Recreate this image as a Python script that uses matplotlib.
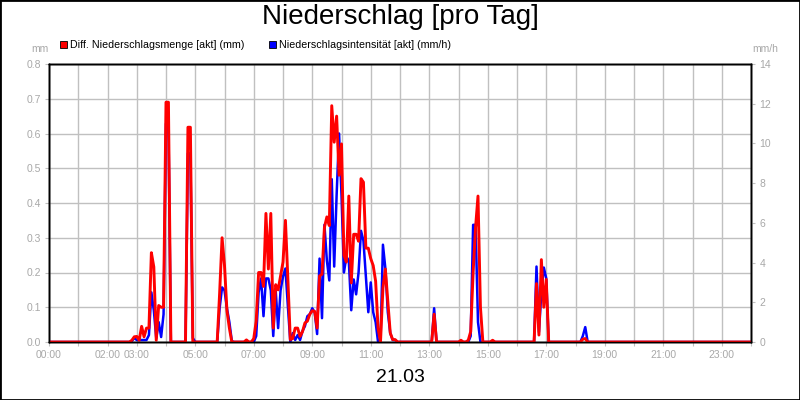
import matplotlib
matplotlib.use("Agg")
import matplotlib.pyplot as plt
from matplotlib import font_manager
from matplotlib.patches import Rectangle

# Diff. Niederschlagsmenge [akt] (mm), 5-minute steps where it rained
menge_times = [
    "00:00", "02:45", "02:50", "02:55", "03:00", "03:05", "03:10", "03:15", "03:20", "03:25",
    "03:30", "03:35", "03:40", "03:45", "03:50", "03:55", "04:00", "04:05", "04:10", "04:40",
    "04:45", "04:50", "04:55", "05:45", "05:50", "05:55", "06:00", "06:05", "06:10", "06:15",
    "06:40", "06:45", "06:50", "06:55", "07:00", "07:05", "07:10", "07:15", "07:20", "07:25",
    "07:30", "07:35", "07:40", "07:45", "07:50", "07:55", "08:00", "08:05", "08:10", "08:15",
    "08:20", "08:25", "08:30", "08:35", "08:40", "08:45", "08:50", "08:55", "09:00", "09:05",
    "09:10", "09:15", "09:20", "09:25", "09:30", "09:35", "09:40", "09:45", "09:50", "09:55",
    "10:00", "10:05", "10:10", "10:15", "10:20", "10:25", "10:30", "10:35", "10:40", "10:45",
    "10:50", "10:55", "11:00", "11:05", "11:10", "11:15", "11:20", "11:25", "11:30", "11:35",
    "11:40", "11:45", "11:50", "11:55", "13:05", "13:10", "13:15", "14:00", "14:05", "14:10",
    "14:15", "14:20", "14:25", "14:30", "14:35", "14:40", "14:45", "14:50", "15:05", "15:10",
    "15:15", "16:35", "16:40", "16:45", "16:50", "16:55", "17:00", "17:05", "18:10", "18:15",
    "18:20", "18:25", "24:00",
]
menge_values = [
    0, 0, 0.005, 0.015, 0.016, 0.005, 0.045, 0.015, 0.04, 0.04,
    0.257, 0.216, 0.005, 0.105, 0.1, 0.1, 0.69, 0.69, 0, 0,
    0.618, 0.618, 0, 0, 0.14, 0.30, 0.22, 0.09, 0.04, 0,
    0, 0.006, 0, 0, 0.01, 0.06, 0.2, 0.2, 0.16, 0.37,
    0.21, 0.37, 0.04, 0.165, 0.15, 0.19, 0.23, 0.35, 0.18, 0.007,
    0.01, 0.04, 0.04, 0.016, 0.03, 0.055, 0.06, 0.08, 0.09, 0.088,
    0.04, 0.19, 0.195, 0.33, 0.36, 0.335, 0.68, 0.575, 0.65, 0.48,
    0.57, 0.25, 0.23, 0.42, 0.17, 0.31, 0.31, 0.29, 0.47, 0.46,
    0.27, 0.27, 0.24, 0.22, 0.175, 0.04, 0, 0.155, 0.21, 0.117,
    0.026, 0.007, 0.007, 0, 0, 0.08, 0, 0, 0.005, 0,
    0, 0.005, 0.03, 0.2, 0.33, 0.42, 0.1, 0, 0, 0.005,
    0, 0, 0.168, 0.02, 0.237, 0.1, 0.18, 0, 0, 0.008,
    0.01, 0, 0,
]

# Niederschlagsintensitaet [akt] (mm/h)
intens_times = [
    "00:00", "02:45", "02:50", "02:55", "03:00", "03:05", "03:10", "03:15", "03:20", "03:25",
    "03:30", "03:35", "03:40", "03:45", "03:50", "03:55", "04:00", "04:05", "04:10", "04:40",
    "04:45", "04:50", "04:55", "05:00", "05:45", "05:50", "05:55", "06:00", "06:05", "06:10",
    "06:15", "06:20", "07:00", "07:05", "07:10", "07:15", "07:20", "07:25", "07:30", "07:35",
    "07:40", "07:45", "07:50", "07:55", "08:00", "08:05", "08:10", "08:15", "08:20", "08:25",
    "08:30", "08:35", "08:40", "08:45", "08:50", "08:55", "09:00", "09:05", "09:10", "09:15",
    "09:20", "09:25", "09:30", "09:35", "09:40", "09:45", "09:50", "09:55", "10:00", "10:05",
    "10:10", "10:15", "10:20", "10:25", "10:30", "10:35", "10:40", "10:45", "10:50", "10:55",
    "11:00", "11:05", "11:10", "11:15", "11:20", "11:25", "11:30", "11:35", "11:40", "11:45",
    "11:50", "11:55", "13:05", "13:10", "13:15", "14:20", "14:25", "14:30", "14:35", "14:40",
    "14:45", "16:35", "16:40", "16:45", "16:50", "16:55", "17:00", "17:05", "18:10", "18:15",
    "18:20", "18:25", "24:00",
]
intens_values = [
    0, 0, 0.05, 0.2, 0.1, 0.1, 0.1, 0.1, 0.1, 0.35,
    2.5, 1.6, 0.2, 1.0, 0.25, 1.4, 11, 11, 0, 0,
    9.5, 9.5, 0.2, 0, 0, 1.7, 2.75, 2.6, 1.7, 1.0,
    0.05, 0, 0, 0.3, 2.5, 3.2, 1.3, 3.2, 3.2, 2.6,
    0.3, 2.6, 0.7, 2.6, 3.3, 3.7, 1.8, 0, 0.45, 0.1,
    0.35, 0.1, 0.55, 0.8, 1.3, 1.4, 1.7, 1.5, 0.4, 4.2,
    1.2, 5.9, 4.1, 3.1, 8.2, 3.8, 7.4, 10.5, 7.4, 3.5,
    4.3, 4.1, 1.6, 3.15, 2.4, 3.5, 5.6, 5.1, 3.3, 1.5,
    3.0, 1.5, 1.0, 0, 0, 4.9, 3.7, 1.5, 0.45, 0.1,
    0.1, 0, 0, 1.7, 0, 0, 0.3, 5.9, 5.9, 1.0,
    0, 0, 3.8, 0.5, 2.5, 3.75, 3.2, 0, 0, 0.3,
    0.75, 0, 0,
]

x_labels = {0: "00:00", 2: "02:00", 3: "03:00", 5: "05:00", 7: "07:00", 9: "09:00",
            11: "11:00", 13: "13:00", 15: "15:00", 17: "17:00", 19: "19:00",
            21: "21:00", 23: "23:00"}
left_ticks = [0.0, 0.1, 0.2, 0.3, 0.4, 0.5, 0.6, 0.7, 0.8]
right_ticks = [0, 2, 4, 6, 8, 10, 12, 14]


def to_hours(t):
    h, m = t.split(":")
    return int(h) + int(m) / 60.0


names = {f.name for f in font_manager.fontManager.ttflist}
base_font = "Liberation Sans" if "Liberation Sans" in names else "DejaVu Sans"
tick_font = base_font
for cand in ["Liberation Sans Narrow", "DejaVu Sans Condensed"]:
    if cand in names:
        tick_font = cand
        break

plt.rcParams["font.family"] = [base_font, "DejaVu Sans"]

grey_txt = "#a8a8a8"
grid_col = "#c0c0c0"

fig = plt.figure(figsize=(8, 4), dpi=100)
fig.patch.set_facecolor("white")
fig.patches.append(Rectangle((0, 0), 1, 1, transform=fig.transFigure,
                             fill=False, ec="black", lw=2))

ax = fig.add_axes([49 / 800, 58 / 400, 702 / 800, 278 / 400])
ax2 = ax.twinx()
ax3 = ax.twinx()
ax.set_zorder(1)
ax2.set_zorder(2)
ax3.set_zorder(3)

# grid on the base axis
ax.set_xlim(0, 24)
ax.set_ylim(0, 0.8)
ax.set_xticks(range(0, 25))
ax.set_xticklabels([x_labels.get(h, "") for h in range(0, 25)],
                   fontsize=7.5, color=grey_txt, family=tick_font)
ax.set_yticks(left_ticks)
ax.set_yticklabels([f"{v:.1f}" for v in left_ticks],
                   fontsize=7.5, color=grey_txt, family=tick_font)
ax.grid(True, color=grid_col, lw=1.0)
ax.set_axisbelow(True)
ax.tick_params(length=3, color=grid_col, pad=3)

# intensity on the right axis
ax2.plot([to_hours(t) for t in intens_times], intens_values,
         color="#0000ff", lw=1.8, solid_joinstyle="round")
ax2.set_ylim(0, 14)
ax2.set_yticks(right_ticks)
ax2.set_yticklabels([str(v) for v in right_ticks],
                    fontsize=7.5, color=grey_txt, family=tick_font)
ax2.tick_params(length=3, color=grid_col, pad=3)

# amount on top, sharing the left scale
ax3.plot([to_hours(t) for t in menge_times], menge_values,
         color="#ff0000", lw=2.1, solid_joinstyle="round")
ax3.set_ylim(0, 0.8)
ax3.set_yticks([])
ax3.set_xlim(0, 24)

for a in (ax, ax2, ax3):
    for s in a.spines.values():
        s.set_color("black")
        s.set_linewidth(1.0)

# titles and unit labels
fig.text(0.5, 1 - 17 / 400, "Niederschlag [pro Tag]", ha="center", va="center",
         fontsize=20, color="black")
fig.text(0.5, 1 - 378 / 400, "21.03", ha="center", va="center",
         fontsize=14, color="black")
fig.text(40 / 800, 1 - 49 / 400, "mm", ha="center", va="center",
         fontsize=7.5, color=grey_txt, family=tick_font)
fig.text(765 / 800, 1 - 49 / 400, "mm/h", ha="center", va="center",
         fontsize=7.5, color=grey_txt, family=tick_font)

# legend
for x0, col, label in [(60, "#ff0000", "Diff. Niederschlagsmenge [akt] (mm)"),
                       (269, "#0000ff", "Niederschlagsintensität [akt] (mm/h)")]:
    fig.patches.append(Rectangle((x0 / 800, 1 - 48 / 400), 7 / 800, 7 / 400,
                                 transform=fig.transFigure, fc=col, ec="black", lw=0.6))
    fig.text((x0 + 10) / 800, 1 - 44.5 / 400, label, ha="left", va="center",
             fontsize=7.7, color="black")

fig.savefig("out.png", dpi=100)
